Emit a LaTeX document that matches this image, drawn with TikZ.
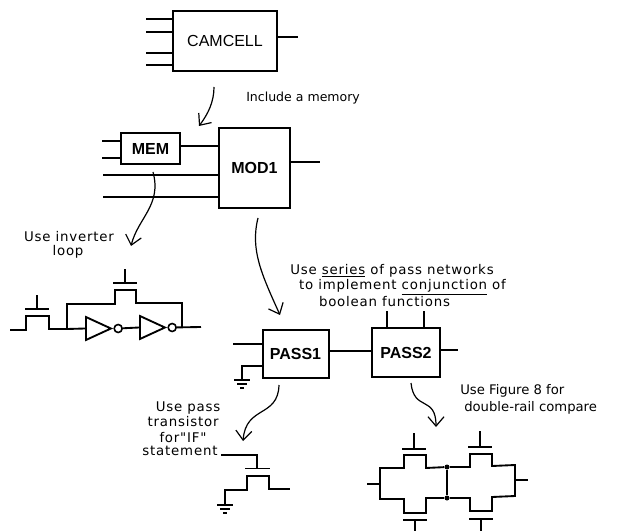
\documentclass[tikz,border=0pt]{standalone}
\usepackage{fontspec}
\setmainfont{Liberation Sans}
\newfontfamily\notefont{DejaVu Sans}
\newfontfamily\widenotefont[LetterSpace=6]{DejaVu Sans}
\usetikzlibrary{shapes.geometric, arrows.meta, positioning}

\begin{document}
\begin{tikzpicture}[
    x=0.75pt, y=-0.75pt,
    block/.style={rectangle, draw=black, line width=1.5pt, inner sep=0pt, font=\bfseries\large},
    wire/.style={line width=1.4pt, draw=black},
    note/.style={inner sep=0pt, font=\notefont\fontsize{9.4}{11}\selectfont},
    widenote/.style={inner sep=0pt, font=\widenotefont\fontsize{10}{12}\selectfont},
    handarrow/.style={-{Straight Barb[length=7pt,width=12pt]}, line width=0.9pt, draw=black},
    notgate/.style={isosceles triangle, isosceles triangle stretches, shape border rotate=0, draw=black, line width=1.4pt, inner sep=0pt, minimum height=25*0.75pt, minimum width=23*0.75pt},
    bubble/.style={circle, draw=black, line width=1.2pt, inner sep=0pt, minimum size=8*0.75pt},
    junction/.style={circle, fill=black, inner sep=0pt, minimum size=5*0.75pt}
]
    \useasboundingbox (0,0) rectangle (618,531);

    % blocks
    \node[block, minimum width=104*0.75pt, minimum height=60*0.75pt, font=\large] (camcell) at (225,41) {CAMCELL};
    \node[block, minimum width=59*0.75pt, minimum height=31*0.75pt] (mem) at (150.5,148.5) {MEM};
    \node[block, minimum width=71*0.75pt, minimum height=80*0.75pt] (mod1) at (254.5,168) {MOD1};
    \node[block, minimum width=66*0.75pt, minimum height=48*0.75pt] (pass1) at (295.5,354) {PASS1};
    \node[block, minimum width=68*0.75pt, minimum height=49*0.75pt] (pass2) at (406,352.5) {PASS2};

    % stubs on the blocks
    \foreach \y [count=\i] in {19,32,53,65} {
        \coordinate (camin\i) at (146,\y);
        \draw[wire] (camin\i) -- (camin\i -| camcell.west);
    }
    \coordinate (camout) at (298,37);
    \draw[wire] (camcell.east |- camout) -- (camout);
    \foreach \y [count=\i] in {141,158} {
        \coordinate (memin\i) at (102,\y);
        \draw[wire] (memin\i) -- (memin\i -| mem.west);
    }
    \draw[wire] (mem.east |- 0,146) -- (mod1.west |- 0,146);
    \foreach \y [count=\i] in {175,197} {
        \coordinate (modin\i) at (103,\y);
        \draw[wire] (modin\i) -- (modin\i -| mod1.west);
    }
    \coordinate (modout) at (320,162);
    \draw[wire] (mod1.east |- modout) -- (modout);

    \coordinate (passin) at (233,344);
    \draw[wire] (passin) -- (passin -| pass1.west);
    \coordinate (gndA) at (242,380);
    \draw[wire] (pass1.west |- 0,366) -| (gndA);
    \draw[wire] (pass1.east |- 0,351) -- (pass2.west |- 0,351);
    \foreach \x [count=\i] in {387,424} {
        \coordinate (passtop\i) at (\x,311);
        \draw[wire] (passtop\i) -- (passtop\i |- pass2.north);
    }
    \coordinate (passout) at (458,350);
    \draw[wire] (pass2.east |- passout) -- (passout);

    % inverter loop
    \coordinate (loopin) at (10,330);
    \coordinate (loopa) at (67,329);
    \coordinate (loopb) at (182,327);
    \coordinate (loopout) at (201,327);
    \node[notgate, anchor=west] (inv1) at (85,328.5) {};
    \node[bubble, anchor=west] (dot1) at (inv1.apex) {};
    \node[notgate, anchor=west] (inv2) at (139,327.5) {};
    \node[bubble, anchor=west] (dot2) at (inv2.apex) {};
    \draw[wire] (loopin) -- (26,330) -- (26,316) -- (49,316) -- (49,329) -- (loopa);
    \draw[wire] (loopa) -- (inv1.west);
    \draw[wire] (dot1) -- (inv2.west);
    \draw[wire] (dot2) -- (loopout);
    \draw[wire] (loopa) -- (67,304) -- (115,304) -- (115,290) -- (136,290) -- (136,303) -- (182,303) -- (loopb);

    % pass transistor
    \coordinate (ifgate) at (221,455);
    \coordinate (gndB) at (225,505);
    \draw[wire, line width=1pt] (ifgate) -- (257,455) -- (257,468);
    \draw[wire] (gndB) -- (225,490) -- (247,490) -- (247,476) -- (269,476) -- (269,489) -- (290,489);

    % double-rail network
    \node[junction] (railtop) at (447,467) {};
    \node[junction] (railbot) at (447,498) {};
    \draw[wire] (railtop) -- (railbot);
    \draw[wire] (railtop) -- (426,468) -- (426,455) -- (404,455) -- (404,468) -- (380,468)
        -- (380,499) -- (404,499) -- (404,513) -- (426,513) -- (426,498) -- (railbot);
    \draw[wire] (railtop) -- (470,467) -- (470,454) -- (492,454) -- (492,466) -- (515,465)
        -- (515,496) -- (492,497) -- (492,511) -- (470,511) -- (470,498) -- (railbot);
    \draw[wire] (367,484) -- (380,484);
    \draw[wire] (515,480) -- (528,480);

    % gates, bar then stem
    \foreach \x/\y/\z in {37/309/295, 125/283/269, 414/449/433, 480/447/431, 415/520/531, 481/519/531} {
        \draw[wire] (\x-12,\y) -- (\x+12,\y);
        \draw[wire] (\x,\y) -- (\x,\z);
    }
    \draw[wire] (245,468.5) -- (270,468.5);

    % grounds
    \foreach \p in {gndA, gndB} {
        \draw[wire, line width=1pt] ([xshift=-6pt]\p) -- ([xshift=6pt]\p);
        \draw[wire, line width=1pt] ([xshift=-3.6pt,yshift=-3pt]\p) -- ([xshift=3.6pt,yshift=-3pt]\p);
        \draw[wire, line width=1pt] ([xshift=-1.5pt,yshift=-6pt]\p) -- ([xshift=1.5pt,yshift=-6pt]\p);
    }

    % hand drawn arrows
    \coordinate (arrAs) at (214,87);
    \coordinate (arrAe) at (199,126);
    \coordinate (arrBs) at (153,172);
    \coordinate (arrBe) at (131,246);
    \coordinate (arrCs) at (258,218);
    \coordinate (arrCe) at (280,315);
    \coordinate (arrDs) at (279,385);
    \coordinate (arrDe) at (243,441);
    \coordinate (arrEs) at (411,383);
    \coordinate (arrEe) at (436,427);
    \draw[handarrow] (arrAs) .. controls (214,102) and (208,114) .. (arrAe);
    \draw[handarrow] (arrBs) .. controls (162,205) and (138,218) .. (arrBe);
    \draw[handarrow] (arrCs) .. controls (250,250) and (262,275) .. (arrCe);
    \draw[handarrow] (arrDs) .. controls (278,418) and (246,405) .. (arrDe);
    \draw[handarrow] (arrEs) .. controls (414,412) and (436,395) .. (arrEe);

    % notes
    \node[note, anchor=west] (memnote) at (246,98) {Include a memory};
    \node[widenote] (loopnote1) at (69,237) {Use inverter};
    \node[widenote] (loopnote2) at (68,252) {loop};
    \node[widenote] (passnote1) at (392,271) {Use \underline{series} of pass networks};
    \node[widenote] (passnote2) at (402.5,287) {to implement \underline{conjunction} of};
    \node[widenote] (passnote3) at (384.5,302) {boolean functions};
    \node[widenote] (ifnote1) at (188,408) {Use pass};
    \node[widenote] (ifnote2) at (183,422) {transistor};
    \node[widenote] (ifnote3) at (183,438) {for"IF"};
    \node[widenote] (ifnote4) at (180,451) {statement};
    \node[note, anchor=west, font=\notefont\fontsize{9.9}{11}\selectfont] (railnote1) at (460,391) {Use Figure 8 for};
    \node[note, anchor=west, font=\notefont\fontsize{9.9}{11}\selectfont] (railnote2) at (464,408) {double-rail compare};
\end{tikzpicture}
\end{document}
